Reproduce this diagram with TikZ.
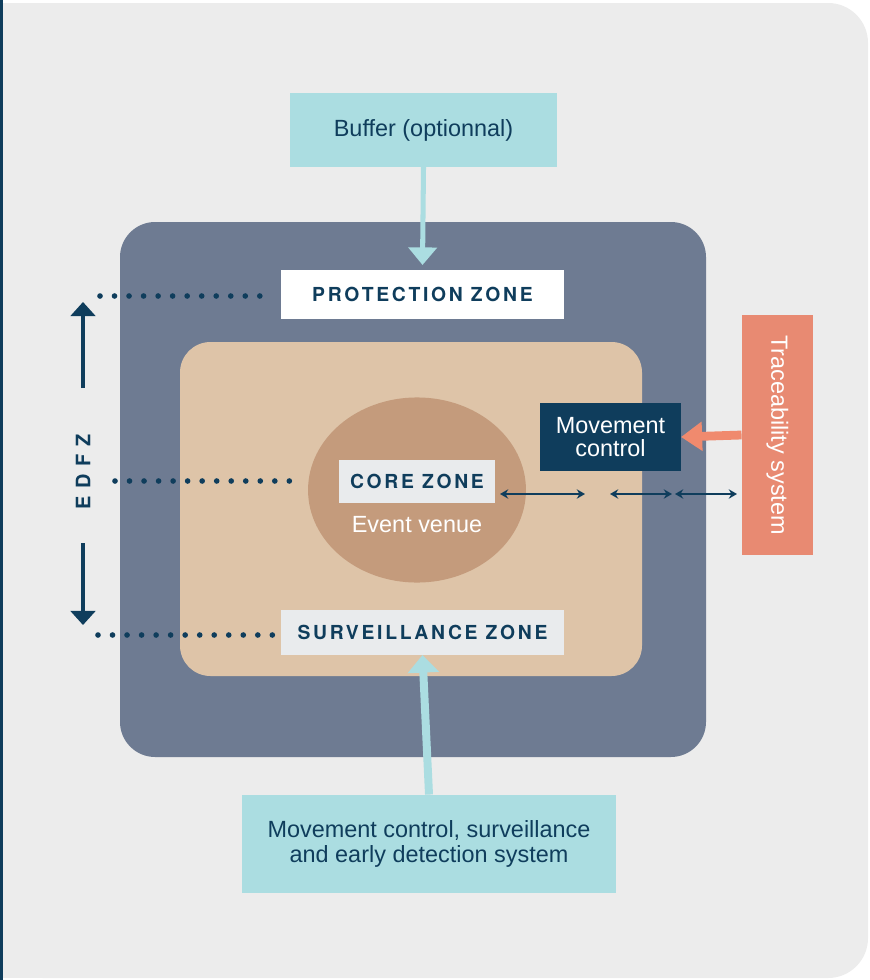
\documentclass[tikz,border=0pt]{standalone}
\usepackage{fontspec}
\setmainfont{Liberation Sans}
\newfontfamily\zonefont[LetterSpace=14]{TeX Gyre Heros}
\newfontfamily\edfzfont[LetterSpace=40]{TeX Gyre Heros}
\usetikzlibrary{arrows.meta}
\definecolor{bggray}{HTML}{ECECEC}
\definecolor{navy}{HTML}{0F3D5C}
\definecolor{slate}{HTML}{6E7B92}
\definecolor{tan}{HTML}{DEC4A8}
\definecolor{venue}{HTML}{C49B7C}
\definecolor{labelgray}{HTML}{E9EBED}
\definecolor{buffercyan}{HTML}{ABDDE1}
\definecolor{traceorange}{HTML}{E88A72}
\definecolor{arroworange}{HTML}{F08A6E}

\begin{document}
\begin{tikzpicture}[x=0.03cm,y=-0.03cm,
  zonelabel/.style={fill=labelgray,text=navy,inner sep=0pt,
    font=\zonefont\bfseries\fontsize{16.5}{19}\selectfont},
  infobox/.style={fill=buffercyan,text=navy,align=center,inner sep=0pt,
    font=\fontsize{20}{22}\selectfont},
  dotline/.style={navy,line width=4.8pt,line cap=round,dash pattern=on 0pt off 12.4pt},
  edfzarrow/.style={navy,line width=2.6pt,-{Triangle[width=21pt,length=12pt]}},
  twoway/.style={navy,line width=1.2pt,{Stealth[width=8pt,length=7pt]}-{Stealth[width=8pt,length=7pt]}}]
\useasboundingbox (0,0) rectangle (870,980);
% Background panel
\fill[bggray,rounded corners=34pt] (3,3) rectangle (868,978);
\fill[bggray] (3,3) rectangle (200,978);
\fill[navy] (0,0) rectangle (3,980);
% Nested zones
\fill[slate,rounded corners=30pt] (120,222) rectangle (706,757);
\fill[tan,rounded corners=26pt] (180,342) rectangle (642,676);
\fill[venue] (417,490) ellipse [x radius=93pt,y radius=79pt];
% Zone labels
\node[zonelabel,fill=white,minimum width=241pt,minimum height=42pt] (protection) at (422.5,294.5) {PROTECTION\ ZONE};
\node[zonelabel,minimum width=133pt,minimum height=37pt] (core) at (417,481.5) {CORE\ ZONE};
\node[text=white,font=\fontsize{20}{22}\selectfont] (venuetext) at (417,525) {Event venue};
\node[zonelabel,minimum width=241pt,minimum height=38pt] (surveillance) at (422.5,632.5) {SURVEILLANCE\ ZONE};
% Outside boxes
\node[infobox,minimum width=228pt,minimum height=63pt] (buffer) at (423.5,130) {Buffer (optionnal)};
\node[infobox,minimum width=319pt,minimum height=84pt] (detection) at (429,844) {Movement control, surveillance\\and early detection system};
\node[infobox,fill=navy,text=white,minimum width=120pt,minimum height=58pt,
  font=\fontsize{20}{20}\selectfont] (movement) at (610.5,437) {Movement\\control};
\node[infobox,fill=traceorange,text=white,rotate=-90,minimum width=205pt,minimum height=61pt] (trace) at (777.5,435) {Traceability system};
% Feeding arrows
\draw[buffercyan,line width=4.3pt,-{Triangle[width=24pt,length=15pt]}] (buffer.south) -- ([yshift=4pt]protection.north);
\draw[buffercyan,line width=6.8pt,-{Triangle[width=26pt,length=15pt]}] (detection.north) -- (surveillance.south);
\draw[arroworange,line width=7.5pt,-{Triangle[width=24pt,length=18pt]}] (trace.south) -- (movement.east);
% Two-way movement arrows
\coordinate (m1) at (500,494);
\coordinate (m2) at (585,494);
\coordinate (m3) at (610,494);
\coordinate (m4) at (672,494);
\coordinate (m5) at (675,494);
\coordinate (m6) at (737,494);
\draw[twoway] (m1) -- (m2);
\draw[twoway] (m3) -- (m4);
\draw[twoway] (m5) -- (m6);
% Dotted leaders to the EDFZ
\coordinate (pdot) at (100,296);
\coordinate (cdot) at (115,481);
\coordinate (sdot) at (98,635);
\draw[dotline] (pdot) -- ([xshift=-16pt]protection.west |- pdot);
\draw[dotline] (cdot) -- ([xshift=-32pt]core.west |- cdot);
\draw[dotline] (sdot) -- ([xshift=-3pt]surveillance.west |- sdot);
% EDFZ label and arrows
\node[rotate=90,text=navy,font=\edfzfont\bfseries\fontsize{17}{19}\selectfont] (edfz) at (83,472) {EDFZ};
\coordinate (edfzup) at (83,388);
\coordinate (edfztop) at (83,302);
\coordinate (edfzdown) at (83,543);
\coordinate (edfzbot) at (83,625);
\draw[edfzarrow] (edfzup) -- (edfztop);
\draw[edfzarrow] (edfzdown) -- (edfzbot);
\end{tikzpicture}
\end{document}
